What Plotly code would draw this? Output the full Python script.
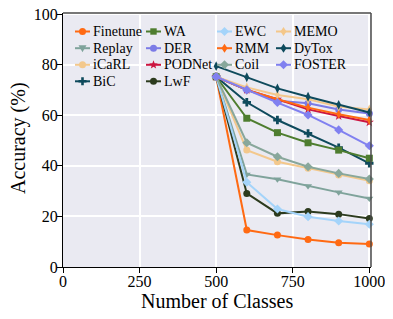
import math
import plotly.graph_objects as go

classes = [500, 600, 700, 800, 900, 1000]

finetune = [75.2, 14.6, 12.6, 10.9, 9.6, 9.1]
replay = [75.2, 36.6, 34.7, 32.0, 29.5, 27.1]
icarl = [75.2, 46.2, 41.6, 39.0, 36.4, 34.1]
bic = [75.2, 65.1, 58.1, 52.8, 47.2, 41.0]
wa = [75.2, 58.8, 53.1, 49.1, 46.2, 43.0]
der = [75.2, 70.0, 65.7, 64.7, 62.3, 60.7]
podnet = [75.2, 70.0, 66.3, 62.3, 59.7, 57.2]
lwf = [75.2, 29.1, 21.2, 21.9, 20.9, 19.2]
ewc = [75.2, 33.5, 22.9, 19.9, 18.2, 16.9]
rmm = [75.2, 70.0, 66.3, 63.0, 60.4, 58.1]
coil = [75.2, 49.1, 43.6, 39.6, 37.0, 34.8]
memo = [75.2, 71.0, 68.0, 66.3, 63.4, 62.3]
dytox = [79.4, 75.0, 70.6, 67.3, 64.1, 61.1]
foster = [75.2, 70.0, 65.0, 60.1, 54.2, 47.9]

method_names = ["Finetune", "Replay", "iCaRL", "BiC", "WA", "DER", "PODNet",
                "LwF", "EWC", "RMM", "Coil", "MEMO", "DyTox", "FOSTER"]
method_values = [finetune, replay, icarl, bic, wa, der, podnet,
                 lwf, ewc, rmm, coil, memo, dytox, foster]
colors = ["#FF6A13", "#7FA39B", "#F3C88C", "#0E4A5C", "#4E7D2F", "#7B7BE6", "#CC1540",
          "#2C3B1E", "#A4D4FA", "#FF6A13", "#88A79B", "#F4C78A", "#0E4A5C", "#8080F0"]
symbols = ["circle", "triangle-down", "circle", "cross", "square", "circle", "star",
           "circle", "diamond", "diamond-tall", "diamond", "diamond-tall", "diamond-tall", "diamond"]

x_ticks = [0, 250, 500, 750, 1000]
y_ticks = [0, 20, 40, 60, 80, 100]

FONT = "Liberation Serif, Times New Roman, serif"

# page body has an 8px margin; work in window pixels
OFF = 8
WIN_W, WIN_H = 393, 319
PL, PT, PR, PB = 63, 13, 371, 267          # plot box in window pixels
W, H = WIN_W - OFF, WIN_H - OFF
L, T = PL - OFF, PT - OFF
R, B = W - (PR - OFF), H - (PB - OFF)
PW, PH = PR - PL, PB - PT

fig = go.Figure()
for name, vals, c, s in zip(method_names, method_values, colors, symbols):
    fig.add_trace(go.Scatter(
        x=classes, y=vals, name=name, mode="lines+markers",
        line=dict(color=c, width=2),
        marker=dict(color=c, symbol=s, size=7, line=dict(width=0)),
        showlegend=False, cliponaxis=False))


def px2p(px, py):
    return (px - PL) / PW, (PB - py) / PH


shapes = []
annotations = []

# manual legend (column-major, 4 columns)
col_x = [75, 146, 217, 276]
row_y = [31.5, 48.2, 64.8, 81.3]
seg_len = 15
per_col = [4, 4, 3, 3]
idx = 0
for ci, n in enumerate(per_col):
    for ri in range(n):
        name, c, s = method_names[idx], colors[idx], symbols[idx]
        idx += 1
        x0, y0 = col_x[ci], row_y[ri]
        x1 = x0 + seg_len
        a0 = px2p(x0, y0)
        a1 = px2p(x1, y0)
        shapes.append(dict(type="line", xref="paper", yref="paper",
                           x0=a0[0], y0=a0[1], x1=a1[0], y1=a1[1],
                           line=dict(color=c, width=2)))
        cx, cy = x0 + seg_len / 2, y0
        r = 3.5
        if s == "circle":
            p0 = px2p(cx - r, cy + r)
            p1 = px2p(cx + r, cy - r)
            shapes.append(dict(type="circle", xref="paper", yref="paper",
                               x0=p0[0], y0=p0[1], x1=p1[0], y1=p1[1],
                               fillcolor=c, line=dict(width=0)))
        else:
            if s == "square":
                pts = [(-3.2, -3.2), (3.2, -3.2), (3.2, 3.2), (-3.2, 3.2)]
            elif s == "diamond":
                pts = [(0, -4.5), (4.5, 0), (0, 4.5), (-4.5, 0)]
            elif s == "diamond-tall":
                pts = [(0, -4.5), (3, 0), (0, 4.5), (-3, 0)]
            elif s == "triangle-down":
                pts = [(-4, -3), (4, -3), (0, 4)]
            elif s == "cross":
                a, b = 1.3, 4
                pts = [(-a, -b), (a, -b), (a, -a), (b, -a), (b, a), (a, a), (a, b),
                       (-a, b), (-a, a), (-b, a), (-b, -a), (-a, -a)]
            else:  # star
                pts = []
                for k in range(10):
                    ang = -math.pi / 2 + k * math.pi / 5
                    rr = 4.5 if k % 2 == 0 else 1.9
                    pts.append((rr * math.cos(ang), rr * math.sin(ang)))
            path = ""
            for k, (dx, dy) in enumerate(pts):
                q = px2p(cx + dx, cy + dy)
                path += ("M" if k == 0 else "L") + f"{q[0]:.5f},{q[1]:.5f}"
            path += "Z"
            shapes.append(dict(type="path", xref="paper", yref="paper", path=path,
                               fillcolor=c, line=dict(width=0)))
        tp = px2p(x1 + 1, y0)
        annotations.append(dict(text=name, xref="paper", yref="paper",
                                x=tp[0], y=tp[1], xanchor="left", yanchor="middle",
                                showarrow=False, font=dict(family=FONT, size=14, color="black")))

# top and right frame
shapes.append(dict(type="line", xref="paper", yref="paper", x0=0, y0=1, x1=1, y1=1,
                   line=dict(color="#4a4a4a", width=1.5)))
shapes.append(dict(type="line", xref="paper", yref="paper", x0=1, y0=0, x1=1, y1=1,
                   line=dict(color="#4a4a4a", width=1.5)))

# axis titles
xt = px2p(217, 301)
annotations.append(dict(text="Number of Classes", xref="paper", yref="paper",
                        x=0.5, y=xt[1], xanchor="center", yanchor="middle", showarrow=False,
                        font=dict(family=FONT, size=20, color="black")))
yt = px2p(18, 138)
annotations.append(dict(text="Accuracy (%)", xref="paper", yref="paper", textangle=-90,
                        x=yt[0], y=yt[1], xanchor="center", yanchor="middle", showarrow=False,
                        font=dict(family=FONT, size=20, color="black")))

fig.update_layout(
    template="none",
    width=W, height=H,
    margin=dict(l=L, r=R, t=T, b=B, pad=0, autoexpand=False),
    paper_bgcolor="white", plot_bgcolor="#EAEAF2",
    font=dict(family=FONT, size=16, color="black"),
    shapes=shapes, annotations=annotations,
    showlegend=False,
    xaxis=dict(range=[0, 1005.5], tickvals=x_ticks, ticktext=[str(v) for v in x_ticks],
               automargin=False, ticklabelstandoff=-5, ticklabeloverflow="allow",
               showgrid=True, gridcolor="white", gridwidth=1.5, zeroline=False,
               showline=True, linecolor="black", linewidth=1,
               ticks="outside", ticklen=5, tickcolor="black", tickwidth=1,
               tickfont=dict(family=FONT, size=16, color="black")),
    yaxis=dict(range=[0, 100.4], tickvals=y_ticks, ticktext=[str(v) for v in y_ticks],
               automargin=False, ticklabelstandoff=-4, ticklabeloverflow="allow",
               showgrid=True, gridcolor="white", gridwidth=1.5, zeroline=False,
               showline=True, linecolor="black", linewidth=1,
               ticks="outside", ticklen=5, tickcolor="black", tickwidth=1,
               tickfont=dict(family=FONT, size=16, color="black")),
)

fig.write_html("out.html")
